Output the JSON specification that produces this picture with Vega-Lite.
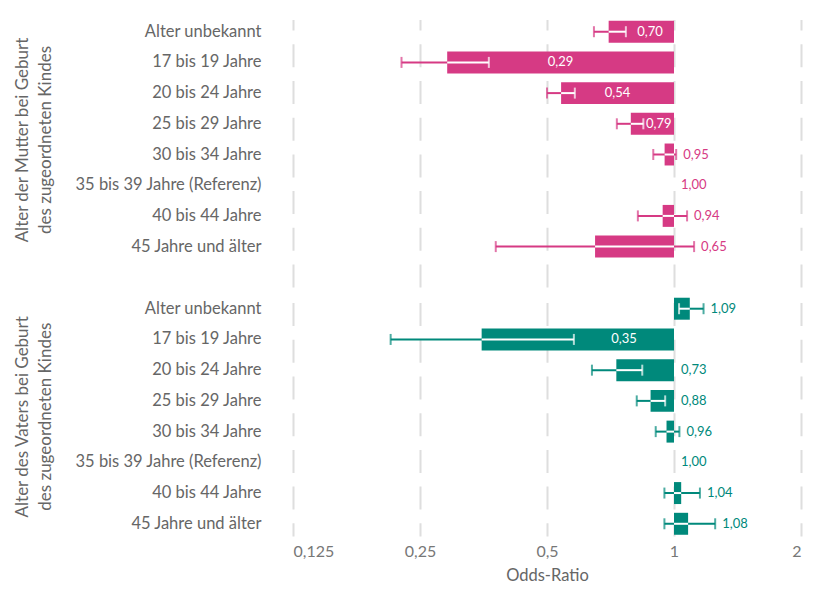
{
  "$schema": "https://vega.github.io/schema/vega-lite/v6.json",
  "padding": {"left": 13, "top": 19.5, "right": 5, "bottom": 5},
  "background": "white",
  "config": {
    "font": "Lato",
    "view": {"stroke": null},
    "locale": {"number": {"decimal": ",", "thousands": ".", "grouping": [3], "currency": ["", " €"]}},
    "axis": {"labelFont": "Lato", "titleFont": "Lato", "titleFontWeight": "normal"}
  },
  "datasets": {
    "or": [
      {"eltern": "Mutter", "alter": "Alter unbekannt", "or": 0.70, "lo": 0.646, "hi": 0.769, "innen": true},
      {"eltern": "Mutter", "alter": "17 bis 19 Jahre", "or": 0.29, "lo": 0.226, "hi": 0.364, "innen": true},
      {"eltern": "Mutter", "alter": "20 bis 24 Jahre", "or": 0.54, "lo": 0.50, "hi": 0.582, "innen": true},
      {"eltern": "Mutter", "alter": "25 bis 29 Jahre", "or": 0.79, "lo": 0.732, "hi": 0.846, "innen": true},
      {"eltern": "Mutter", "alter": "30 bis 34 Jahre", "or": 0.95, "lo": 0.893, "hi": 1.012, "innen": false},
      {"eltern": "Mutter", "alter": "35 bis 39 Jahre (Referenz)", "or": 1.00, "lo": null, "hi": null, "innen": false},
      {"eltern": "Mutter", "alter": "40 bis 44 Jahre", "or": 0.94, "lo": 0.821, "hi": 1.074, "innen": false},
      {"eltern": "Mutter", "alter": "45 Jahre und älter", "or": 0.65, "lo": 0.378, "hi": 1.116, "innen": false},
      {"eltern": "Vater", "alter": "Alter unbekannt", "or": 1.09, "lo": 1.028, "hi": 1.175, "innen": false},
      {"eltern": "Vater", "alter": "17 bis 19 Jahre", "or": 0.35, "lo": 0.213, "hi": 0.579, "innen": true},
      {"eltern": "Vater", "alter": "20 bis 24 Jahre", "or": 0.73, "lo": 0.639, "hi": 0.841, "innen": false},
      {"eltern": "Vater", "alter": "25 bis 29 Jahre", "or": 0.88, "lo": 0.816, "hi": 0.953, "innen": false},
      {"eltern": "Vater", "alter": "30 bis 34 Jahre", "or": 0.96, "lo": 0.905, "hi": 1.030, "innen": false},
      {"eltern": "Vater", "alter": "35 bis 39 Jahre (Referenz)", "or": 1.00, "lo": null, "hi": null, "innen": false},
      {"eltern": "Vater", "alter": "40 bis 44 Jahre", "or": 1.04, "lo": 0.949, "hi": 1.152, "innen": false},
      {"eltern": "Vater", "alter": "45 Jahre und älter", "or": 1.08, "lo": 0.949, "hi": 1.252, "innen": false}
    ]
  },
  "data": {"name": "or"},
  "spacing": 7,
  "resolve": {"scale": {"y": "independent", "x": "shared", "color": "shared"}},
  "vconcat": [
    {
      "width": 508,
      "height": 270,
      "transform": [{"filter": "datum.eltern == 'Mutter'"}],
      "encoding": {
        "y": {
          "field": "alter", "type": "nominal",
          "scale": {"domain": ["Alter unbekannt", "17 bis 19 Jahre", "20 bis 24 Jahre", "25 bis 29 Jahre", "30 bis 34 Jahre", "35 bis 39 Jahre (Referenz)", "40 bis 44 Jahre", "45 Jahre und älter", " "], "paddingInner": 0.285, "paddingOuter": 0.04},
          "axis": {"title": ["Alter der Mutter bei Geburt", "des zugeordneten Kindes"], "titleY": 120, "titleFontSize": 17, "titleColor": "#666", "titleLineHeight": 23, "titlePadding": 9, "labelFontSize": 16.5, "labelColor": "#666", "labelPadding": 32, "labelLimit": 400, "ticks": false, "domain": false, "minExtent": 230, "maxExtent": 230}
        }
      },
      "layer": [
        {
          "transform": [{"filter": "datum.lo != null"}],
          "mark": {"type": "rule", "strokeWidth": 2},
          "encoding": {
            "x": {"field": "lo", "type": "quantitative", "scale": {"type": "log", "domain": [0.125, 2], "nice": false},
              "axis": {"values": [0.125, 0.25, 0.5, 1, 2], "labels": false, "ticks": false, "tickSize": 0, "domain": false, "title": null, "grid": true, "gridColor": "#dedede", "gridWidth": 2, "gridDash": [23, 13.7], "gridDashOffset": 34.2}},
            "x2": {"field": "hi"},
            "color": {"field": "eltern", "type": "nominal", "scale": {"domain": ["Mutter", "Vater"], "range": ["#d63a84", "#00897b"]}, "legend": null}
          }
        },
        {
          "mark": {"type": "bar"},
          "encoding": {
            "x": {"field": "or", "type": "quantitative"},
            "x2": {"datum": 1},
            "color": {"field": "eltern", "type": "nominal", "legend": null}
          }
        },
        {
          "transform": [
            {"filter": "datum.lo != null"},
            {"calculate": "max(datum.lo, min(datum.or, 1))", "as": "a"},
            {"calculate": "min(datum.hi, max(datum.or, 1))", "as": "b"},
            {"filter": "datum.a < datum.b"}
          ],
          "mark": {"type": "rule", "strokeWidth": 2, "color": "white"},
          "encoding": {"x": {"field": "a", "type": "quantitative"}, "x2": {"field": "b"}}
        },
        {
          "transform": [
            {"filter": "datum.lo != null"},
            {"fold": ["lo", "hi"], "as": ["grenze", "v"]}
          ],
          "mark": {"type": "tick", "size": 11, "thickness": 2},
          "encoding": {
            "x": {"field": "v", "type": "quantitative"},
            "color": {"condition": {"test": "datum.v >= min(datum.or, 1) && datum.v <= max(datum.or, 1)", "value": "white"}, "field": "eltern", "type": "nominal", "legend": null}
          }
        },
        {
          "transform": [
            {"filter": "datum.innen"},
            {"calculate": "(log(sqrt(datum.or)) - log(datum.hi)) / log(2) < 0.14 ? sqrt(datum.hi) : sqrt(datum.or)", "as": "lx"}
          ],
          "mark": {"type": "text", "align": "center", "baseline": "middle", "fontSize": 13, "color": "white", "font": "Lato"},
          "encoding": {"x": {"field": "lx", "type": "quantitative"}, "text": {"field": "or", "type": "quantitative", "format": ".2f"}}
        },
        {
          "transform": [
            {"filter": "!datum.innen"},
            {"calculate": "max(1, datum.or, datum.hi == null ? 1 : datum.hi)", "as": "lx"}
          ],
          "mark": {"type": "text", "align": "left", "baseline": "middle", "dx": 7, "fontSize": 13, "font": "Lato"},
          "encoding": {
            "x": {"field": "lx", "type": "quantitative"},
            "text": {"field": "or", "type": "quantitative", "format": ".2f"},
            "color": {"field": "eltern", "type": "nominal", "legend": null}
          }
        }
      ]
    },
    {
      "width": 508,
      "height": 239.5,
      "transform": [{"filter": "datum.eltern == 'Vater'"}],
      "encoding": {
        "y": {
          "field": "alter", "type": "nominal",
          "scale": {"domain": ["Alter unbekannt", "17 bis 19 Jahre", "20 bis 24 Jahre", "25 bis 29 Jahre", "30 bis 34 Jahre", "35 bis 39 Jahre (Referenz)", "40 bis 44 Jahre", "45 Jahre und älter"], "paddingInner": 0.285, "paddingOuter": 0.04},
          "axis": {"title": ["Alter des Vaters bei Geburt", "des zugeordneten Kindes"], "titleFontSize": 17, "titleColor": "#666", "titleLineHeight": 23, "titlePadding": 9, "labelFontSize": 16.5, "labelColor": "#666", "labelPadding": 32, "labelLimit": 400, "ticks": false, "domain": false, "minExtent": 230, "maxExtent": 230}
        }
      },
      "layer": [
        {
          "transform": [{"filter": "datum.lo != null"}],
          "mark": {"type": "rule", "strokeWidth": 2},
          "encoding": {
            "x": {"field": "lo", "type": "quantitative", "scale": {"type": "log", "domain": [0.125, 2], "nice": false},
              "axis": {"values": [0.125, 0.25, 0.5, 1, 2], "format": "~g", "labelFontSize": 16, "labelColor": "#777", "labelPadding": 7, "ticks": false, "tickSize": 0, "domain": false, "title": "Odds-Ratio", "titleFontSize": 16.5, "titleColor": "#666", "titlePadding": 8, "grid": true, "gridColor": "#dedede", "gridWidth": 2, "gridDash": [23, 13.7], "gridDashOffset": 9.8}},
            "x2": {"field": "hi"},
            "color": {"field": "eltern", "type": "nominal", "legend": null}
          }
        },
        {
          "mark": {"type": "bar"},
          "encoding": {
            "x": {"field": "or", "type": "quantitative"},
            "x2": {"datum": 1},
            "color": {"field": "eltern", "type": "nominal", "legend": null}
          }
        },
        {
          "transform": [
            {"filter": "datum.lo != null"},
            {"calculate": "max(datum.lo, min(datum.or, 1))", "as": "a"},
            {"calculate": "min(datum.hi, max(datum.or, 1))", "as": "b"},
            {"filter": "datum.a < datum.b"}
          ],
          "mark": {"type": "rule", "strokeWidth": 2, "color": "white"},
          "encoding": {"x": {"field": "a", "type": "quantitative"}, "x2": {"field": "b"}}
        },
        {
          "transform": [
            {"filter": "datum.lo != null"},
            {"fold": ["lo", "hi"], "as": ["grenze", "v"]}
          ],
          "mark": {"type": "tick", "size": 11, "thickness": 2},
          "encoding": {
            "x": {"field": "v", "type": "quantitative"},
            "color": {"condition": {"test": "datum.v >= min(datum.or, 1) && datum.v <= max(datum.or, 1)", "value": "white"}, "field": "eltern", "type": "nominal", "legend": null}
          }
        },
        {
          "transform": [
            {"filter": "datum.innen"},
            {"calculate": "(log(sqrt(datum.or)) - log(datum.hi)) / log(2) < 0.14 ? sqrt(datum.hi) : sqrt(datum.or)", "as": "lx"}
          ],
          "mark": {"type": "text", "align": "center", "baseline": "middle", "fontSize": 13, "color": "white", "font": "Lato"},
          "encoding": {"x": {"field": "lx", "type": "quantitative"}, "text": {"field": "or", "type": "quantitative", "format": ".2f"}}
        },
        {
          "transform": [
            {"filter": "!datum.innen"},
            {"calculate": "max(1, datum.or, datum.hi == null ? 1 : datum.hi)", "as": "lx"}
          ],
          "mark": {"type": "text", "align": "left", "baseline": "middle", "dx": 7, "fontSize": 13, "font": "Lato"},
          "encoding": {
            "x": {"field": "lx", "type": "quantitative"},
            "text": {"field": "or", "type": "quantitative", "format": ".2f"},
            "color": {"field": "eltern", "type": "nominal", "legend": null}
          }
        }
      ]
    }
  ]
}
